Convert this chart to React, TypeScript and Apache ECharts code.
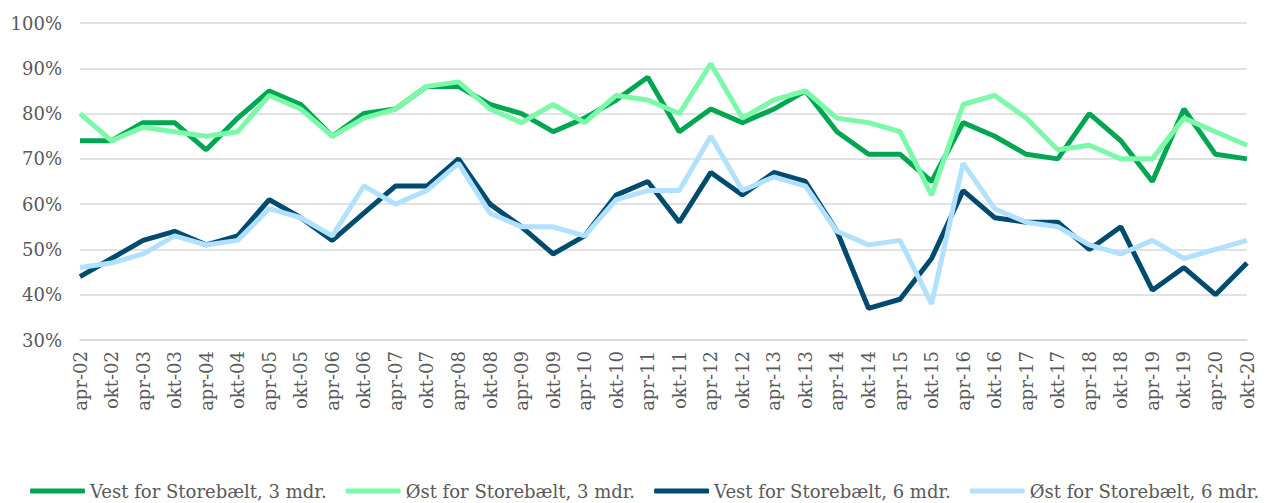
import React, { useEffect, useRef } from "react";
import * as echarts from "echarts";

const categories: string[] = [];
for (let y = 2; y <= 20; y++) {
  const yy = y < 10 ? "0" + y : String(y);
  categories.push("apr-" + yy, "okt-" + yy);
}

const vest3 = [74, 74, 78, 78, 72, 79, 85, 82, 75, 80, 81, 86, 86, 82, 80, 76, 79, 83, 88, 76, 81, 78, 81, 85, 76, 71, 71, 65, 78, 75, 71, 70, 80, 74, 65, 81, 71, 70];
const oest3 = [80, 74, 77, 76, 75, 76, 84, 81, 75, 79, 81, 86, 87, 81, 78, 82, 78, 84, 83, 80, 91, 79, 83, 85, 79, 78, 76, 62, 82, 84, 79, 72, 73, 70, 70, 79, 76, 73];
const vest6 = [44, 48, 52, 54, 51, 53, 61, 57, 52, 58, 64, 64, 70, 60, 55, 49, 53, 62, 65, 56, 67, 62, 67, 65, 54, 37, 39, 48, 63, 57, 56, 56, 50, 55, 41, 46, 40, 47];
const oest6 = [46, 47, 49, 53, 51, 52, 59, 57, 53, 64, 60, 63, 69, 58, 55, 55, 53, 61, 63, 63, 75, 63, 66, 64, 54, 51, 52, 38, 69, 59, 56, 55, 51, 49, 52, 48, 50, 52];

const seriesNames = [
  "Vest for Storebælt, 3 mdr.",
  "Øst for Storebælt, 3 mdr.",
  "Vest for Storebælt, 6 mdr.",
  "Øst for Storebælt, 6 mdr.",
];
const colors = ["#00A651", "#7BF9A8", "#004B6E", "#B1E1FF"];

export default function App() {
  const ref = useRef<HTMLDivElement>(null);
  useEffect(() => {
    if (!ref.current) return;
    const chart = echarts.init(ref.current, null, { renderer: "svg" });
    const font = "'DejaVu Serif', Georgia, serif";
    const data = [vest3, oest3, vest6, oest6];
    chart.setOption({
      animation: false,
      color: colors,
      grid: { left: 80, right: 19, top: 23, bottom: 163, containLabel: false },
      legend: {
        top: 481,
        left: 30,
        padding: 0,
        itemGap: 19,
        itemWidth: 55,
        itemHeight: 5,
        icon: "roundRect",
        textStyle: { fontFamily: font, fontSize: 18, lineHeight: 20, color: "#595959" },
        data: seriesNames,
      },
      xAxis: {
        type: "category",
        boundaryGap: false,
        data: categories,
        axisLine: { lineStyle: { color: "#D9D9D9", width: 1.5 } },
        axisTick: { show: false },
        axisLabel: {
          interval: 0,
          rotate: 90,
          margin: 11,
          fontFamily: font,
          fontSize: 18,
          color: "#595959",
        },
      },
      yAxis: {
        type: "value",
        min: 30,
        max: 100,
        interval: 10,
        axisLine: { show: false },
        axisTick: { show: false },
        splitLine: { lineStyle: { color: "#D9D9D9", width: 1.5 } },
        axisLabel: {
          formatter: "{value}%",
          margin: 18,
          fontFamily: font,
          fontSize: 18,
          color: "#595959",
        },
      },
      series: data.map((d, i) => ({
        name: seriesNames[i],
        type: "line",
        data: d,
        showSymbol: false,
        symbol: "none",
        lineStyle: { width: 5, color: colors[i] },
        itemStyle: { color: colors[i] },
        z: 2 + i,
      })),
    });
    return () => chart.dispose();
  }, []);
  return (
    <div
      ref={ref}
      style={{ position: "absolute", left: 0, top: 0, width: 1266, height: 503, background: "#fff" }}
    />
  );
}
